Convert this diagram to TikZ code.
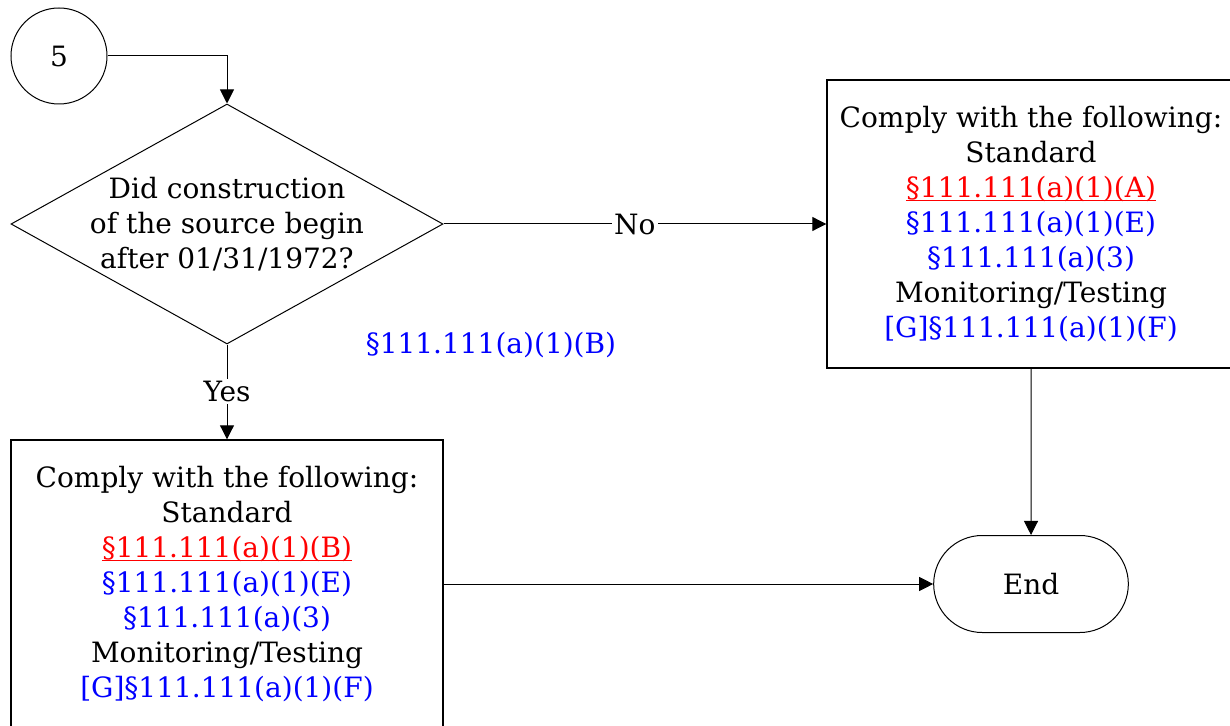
\documentclass[tikz,border=0pt]{standalone}
\usepackage{fontspec}
\setmainfont{DejaVu Serif}
\usetikzlibrary{shapes.geometric,shapes.misc,arrows.meta}
\usepackage{xcolor}
\definecolor{stdred}{RGB}{255,0,0}
\definecolor{refblue}{RGB}{0,0,255}
\newcommand{\stdref}[1]{\textcolor{stdred}{\underline{\smash{#1}}}}

\tikzset{
  flowtext/.style={font=\fontsize{14}{17.5}\selectfont, align=center},
  compbox/.style={flowtext, draw, line width=0.7pt, inner xsep=2pt, minimum height=144pt},
  question/.style={flowtext, diamond, draw, line width=0.5pt, aspect=1.8, inner xsep=-2pt, inner ysep=-1pt, minimum width=216pt, minimum height=120pt},
  connector/.style={flowtext, circle, draw, line width=0.5pt, minimum size=48pt},
  terminal/.style={flowtext, rounded rectangle, draw, line width=0.5pt, minimum width=104pt, minimum height=48.5pt},
  edgelabel/.style={flowtext, fill=white, inner sep=1pt},
  flowline/.style={->, line width=0.5pt}
}

\begin{document}
\begin{tikzpicture}[x=0.5pt, y=-0.5pt, >={Triangle[length=7pt,width=7pt]}]
\useasboundingbox (0,0) rectangle (1230,726);
\clip (0,0) rectangle (1230,726);

\node (C5) at (59,56) [connector] {5};
\node (Q) at (227,224) [question] {Did construction\\of the source begin\\after 01/31/1972?};
\node (R) at (1031,224) [compbox, minimum width=204pt] {Comply with the following:\\Standard\\
  \stdref{\S111.111(a)(1)(A)}\\
  \textcolor{refblue}{\S111.111(a)(1)(E)}\\
  \textcolor{refblue}{\S111.111(a)(3)}\\
  Monitoring/Testing\\
  \textcolor{refblue}{[G]\S111.111(a)(1)(F)}};
\node (L) at (227,584) [compbox, minimum width=216pt] {Comply with the following:\\Standard\\
  \stdref{\S111.111(a)(1)(B)}\\
  \textcolor{refblue}{\S111.111(a)(1)(E)}\\
  \textcolor{refblue}{\S111.111(a)(3)}\\
  Monitoring/Testing\\
  \textcolor{refblue}{[G]\S111.111(a)(1)(F)}};
\node (E) at (1031,584) [terminal] {End};
\node (B) at (491,345) [flowtext, text=refblue] {\S111.111(a)(1)(B)};

\draw[flowline] (C5) -| (Q);
\draw[flowline] (Q) -- node[edgelabel] {No} (R);
\draw[flowline] (Q) -- node[edgelabel] {Yes} (L);
\draw[flowline] (R) -- (E);
\draw[flowline] (L) -- (E);

\end{tikzpicture}
\end{document}
